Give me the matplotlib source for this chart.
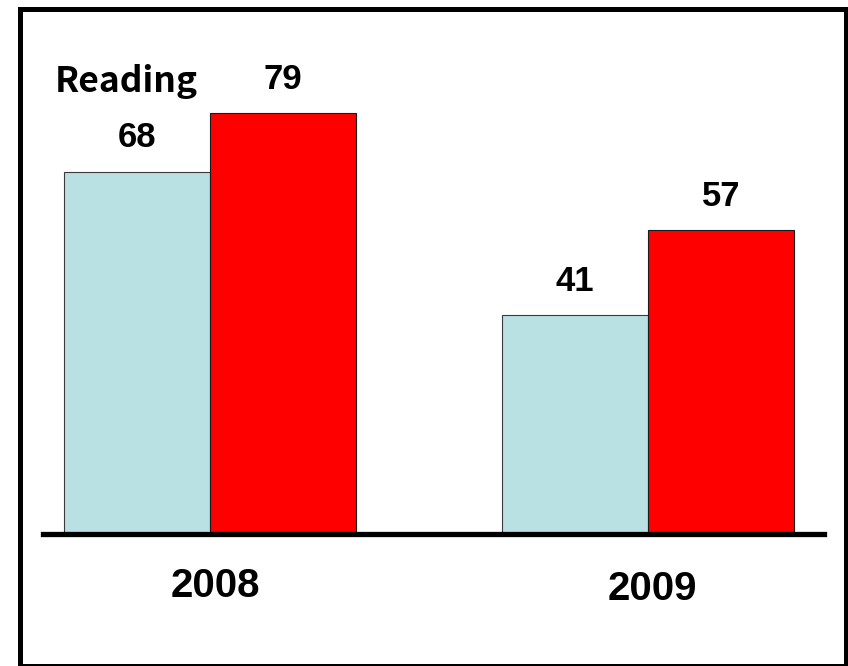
import matplotlib
matplotlib.use("Agg")
import matplotlib.pyplot as plt
from matplotlib.patches import Rectangle
import numpy as np

years = ["2008", "2009"]
series_a = [68, 41]   # light blue
series_b = [79, 57]   # red
series_label = "Reading"

W, H, DPI = 848, 666, 100
fig = plt.figure(figsize=(W / DPI, H / DPI), dpi=DPI)
fig.patch.set_facecolor("white")

px_per_unit_x = 438.0
left_px, right_px = 43, 824
center0_px = 210
ax = fig.add_axes([left_px / W, 132 / H, (right_px - left_px) / W, 533 / H])
x = np.arange(len(years))
w = 146 / px_per_unit_x
ax.set_xlim((left_px - center0_px) / px_per_unit_x, 1 + (right_px - (center0_px + px_per_unit_x)) / px_per_unit_x)
ax.set_ylim(0, 100)

bars_a = ax.bar(x - w / 2, series_a, width=w, color="#B9E0E3", edgecolor="#3a3a3a", linewidth=0.8, zorder=2)
bars_b = ax.bar(x + w / 2, series_b, width=w, color="#FF0000", edgecolor="#1a1a1a", linewidth=0.8, zorder=2)

ax.axhline(0, color="black", linewidth=3.8, zorder=3, clip_on=False)

for bars, vals in ((bars_a, series_a), (bars_b, series_b)):
    for b, v in zip(bars, vals):
        ax.annotate(str(v), xy=(b.get_x() + b.get_width() / 2, v), xytext=(0, 17.5),
                    textcoords="offset points", ha="center", va="baseline",
                    fontsize=25, fontweight="bold", family="Liberation Sans", color="black")

year_offsets = [(3.6, -45.5), (3.0, -47.5)]
for i, (yr, off) in enumerate(zip(years, year_offsets)):
    ax.annotate(yr, xy=(i, 0), xycoords="data", xytext=off, textcoords="offset points",
                ha="center", va="baseline", fontsize=29, fontweight="bold",
                family="Liberation Sans", color="black", annotation_clip=False)

fig.text(55 / W, 1 - 92 / H, series_label, ha="left", va="baseline", fontsize=25.5,
         fontweight="bold", family=["Noto Sans CJK JP", "DejaVu Sans"], color="black")

ax.set_xticks([])
ax.set_yticks([])
for s in ax.spines.values():
    s.set_visible(False)
ax.patch.set_alpha(0)

frame = Rectangle((19.5 / W, 0.5 / H), 826 / W, 657 / H, transform=fig.transFigure,
                  fill=False, edgecolor="black", linewidth=3.6, joinstyle="miter", clip_on=False)
fig.patches.append(frame)

fig.savefig("out.png", dpi=DPI, facecolor="white")
